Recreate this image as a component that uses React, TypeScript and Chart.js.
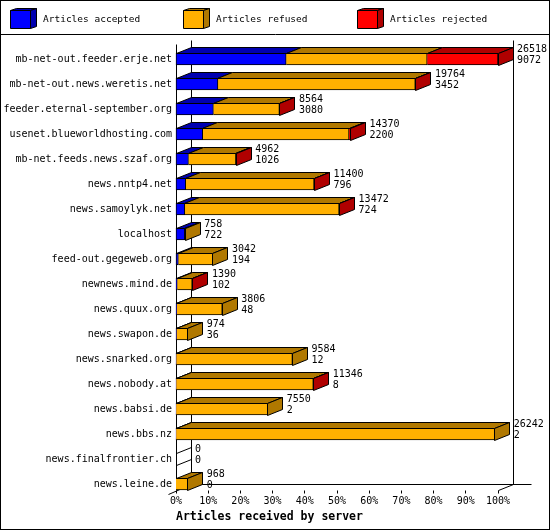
import React, { useEffect, useRef } from "react";
import { Chart, registerables } from "chart.js";

Chart.register(...registerables);

const servers = [
  "mb-net-out.feeder.erje.net",
  "mb-net-out.news.weretis.net",
  "feeder.eternal-september.org",
  "usenet.blueworldhosting.com",
  "mb-net.feeds.news.szaf.org",
  "news.nntp4.net",
  "news.samoylyk.net",
  "localhost",
  "feed-out.gegeweb.org",
  "newnews.mind.de",
  "news.quux.org",
  "news.swapon.de",
  "news.snarked.org",
  "news.nobody.at",
  "news.babsi.de",
  "news.bbs.nz",
  "news.finalfrontier.ch",
  "news.leine.de",
];

const totals = [26518, 19764, 8564, 14370, 4962, 11400, 13472, 758, 3042, 1390, 3806, 974, 9584, 11346, 7550, 26242, 0, 968];
const accepted = [9072, 3452, 3080, 2200, 1026, 796, 724, 722, 194, 102, 48, 36, 12, 8, 2, 2, 0, 0];
const refused = [11612, 16252, 5434, 12050, 3906, 10574, 12708, 36, 2848, 1228, 3758, 938, 9572, 11298, 7548, 26240, 0, 968];
const rejected = [5834, 60, 50, 120, 30, 30, 40, 0, 0, 60, 0, 0, 0, 40, 0, 0, 0, 0];

const seriesLabels = ["Articles accepted", "Articles refused", "Articles rejected"];
const seriesCounts = [accepted, refused, rejected];
const frontColors = ["#0000ff", "#ffb000", "#ff0000"];
const shadeColors = ["#0000b0", "#b07800", "#b00000"];
const legendX = [10, 183, 357];

const DX = 15;
const DY = 6;
const MONO = "'DejaVu Sans Mono', 'Liberation Mono', monospace";

const maxTotal = Math.max(...totals);
const pct = (v: number) => (v / maxTotal) * 100;

const snap = (v: number) => Math.floor(v) + 0.5;

const face = (ctx: CanvasRenderingContext2D, pts: number[][], fill: string | null) => {
  ctx.beginPath();
  ctx.moveTo(snap(pts[0][0]), snap(pts[0][1]));
  for (let k = 1; k < pts.length; k++) ctx.lineTo(snap(pts[k][0]), snap(pts[k][1]));
  ctx.closePath();
  if (fill) {
    ctx.fillStyle = fill;
    ctx.fill();
  }
  ctx.stroke();
};

const line = (ctx: CanvasRenderingContext2D, x1: number, y1: number, x2: number, y2: number) => {
  ctx.beginPath();
  ctx.moveTo(snap(x1), snap(y1));
  ctx.lineTo(snap(x2), snap(y2));
  ctx.stroke();
};

const depthPlugin = {
  id: "depth",
  beforeDatasetsDraw(chart: any) {
    const { ctx, chartArea } = chart;
    const { left, right, top, bottom } = chartArea;
    const frontTop = top - 15;
    const frontBottom = bottom + DY;
    ctx.save();
    ctx.strokeStyle = "#000";
    ctx.lineWidth = 1;
    // back wall and floor
    line(ctx, left + DX, frontTop - 4, left + DX, bottom);
    line(ctx, right + DX, frontTop - 4, right + DX, bottom);
    line(ctx, left + DX, bottom, right + DX + 18, bottom);
    line(ctx, left - 8, frontBottom + 4, left + DX, bottom);
    line(ctx, right, frontBottom, right + DX, bottom);
    // front axis
    line(ctx, left, frontTop, left, frontBottom);
    chart.scales.x.ticks.forEach((t: any) => {
      const px = chart.scales.x.getPixelForValue(t.value);
      line(ctx, px, frontBottom, px, frontBottom + 3);
    });
    ctx.restore();
  },
  afterDatasetsDraw(chart: any) {
    const { ctx, chartArea } = chart;
    const metas = seriesLabels.map((_, d) => chart.getDatasetMeta(d));
    ctx.save();
    ctx.strokeStyle = "#000";
    ctx.lineWidth = 1;
    servers.forEach((_, i) => {
      let last = -1;
      let t = 0;
      let b = 0;
      metas.forEach((meta: any, d: number) => {
        const el = meta.data[i];
        t = el.y - el.height / 2;
        b = el.y + el.height / 2;
        if (seriesCounts[d][i] > 0) {
          face(ctx, [[el.base, t], [el.base + DX, t - DY], [el.x + DX, t - DY], [el.x, t]], shadeColors[d]);
          last = d;
        }
      });
      if (last >= 0) {
        const x2 = metas[last].data[i].x;
        face(ctx, [[x2, t], [x2 + DX, t - DY], [x2 + DX, b - DY], [x2, b]], shadeColors[last]);
      } else {
        const x2 = chartArea.left;
        face(ctx, [[x2, t], [x2 + DX, t - DY], [x2 + DX, b - DY], [x2, b]], null);
      }
      // value labels
      const yc = chart.scales.y.getPixelForValue(i);
      const endX = chart.scales.x.getPixelForValue(pct(totals[i]));
      ctx.fillStyle = "#000";
      ctx.font = `10px ${MONO}`;
      ctx.textAlign = "left";
      ctx.textBaseline = "middle";
      ctx.fillText(String(totals[i]), endX + DX + 4, yc - 9.5);
      ctx.fillText(String(accepted[i]), endX + DX + 4, yc + 1.5);
    });
    ctx.restore();
  },
  afterDraw(chart: any) {
    const { ctx, width, height } = chart;
    ctx.save();
    ctx.strokeStyle = "#000";
    ctx.lineWidth = 1;
    ctx.strokeRect(0.5, 0.5, width - 1, height - 1);
    line(ctx, 0, 34, width, 34);
    seriesLabels.forEach((label, d) => {
      const bx = legendX[d];
      face(ctx, [[bx, 10], [bx + 6, 8], [bx + 26, 8], [bx + 20, 10]], shadeColors[d]);
      face(ctx, [[bx + 20, 10], [bx + 26, 8], [bx + 26, 26], [bx + 20, 28]], shadeColors[d]);
      face(ctx, [[bx, 10], [bx + 20, 10], [bx + 20, 28], [bx, 28]], frontColors[d]);
      ctx.fillStyle = "#000";
      ctx.font = `9.5px ${MONO}`;
      ctx.textAlign = "left";
      ctx.textBaseline = "middle";
      ctx.fillText(label, bx + 33, 20);
    });
    ctx.restore();
  },
};

const ServerChart: React.FC = () => {
  const canvasRef = useRef<HTMLCanvasElement | null>(null);

  useEffect(() => {
    if (!canvasRef.current) return;
    const chart = new Chart(canvasRef.current, {
      type: "bar",
      data: {
        labels: servers,
        datasets: seriesLabels.map((label, d) => ({
          label,
          data: seriesCounts[d].map(pct),
          backgroundColor: frontColors[d],
          borderColor: "#000",
          borderWidth: 1,
          borderSkipped: d === 0 ? false : "start",
          barThickness: 12,
          clip: false,
        })),
      },
      options: {
        animation: false,
        responsive: false,
        indexAxis: "y",
        layout: { padding: { top: 59, right: 52, bottom: 0, left: 0 } },
        plugins: { legend: { display: false }, tooltip: { enabled: false } },
        scales: {
          x: {
            stacked: true,
            min: 0,
            max: 100,
            grid: { display: false, drawTicks: false },
            border: { display: false },
            ticks: {
              stepSize: 10,
              padding: 11,
              color: "#000",
              maxRotation: 0,
              autoSkip: false,
              font: { family: MONO, size: 10 },
              callback: (v: any) => `${v}%`,
            },
            title: {
              display: true,
              text: "Articles received by server",
              align: "start",
              color: "#000",
              font: { family: MONO, size: 11.5, weight: "bold" },
              padding: { top: 0, bottom: 6 },
            },
            afterFit: (s: any) => {
              s.height = 46;
            },
          },
          y: {
            stacked: true,
            offset: false,
            grid: { display: false, drawTicks: false },
            border: { display: false },
            ticks: {
              padding: 4,
              color: "#000",
              autoSkip: false,
              font: { family: MONO, size: 10 },
            },
            afterFit: (s: any) => {
              s.width = 176;
            },
          },
        },
      } as any,
      plugins: [depthPlugin],
    });
    return () => {
      chart.destroy();
    };
  }, []);

  return (
    <div style={{ position: "fixed", left: 0, top: 0, width: 550, height: 530, background: "#fff" }}>
      <canvas ref={canvasRef} width={550} height={530} />
    </div>
  );
};

export default function App() {
  return <ServerChart />;
}
